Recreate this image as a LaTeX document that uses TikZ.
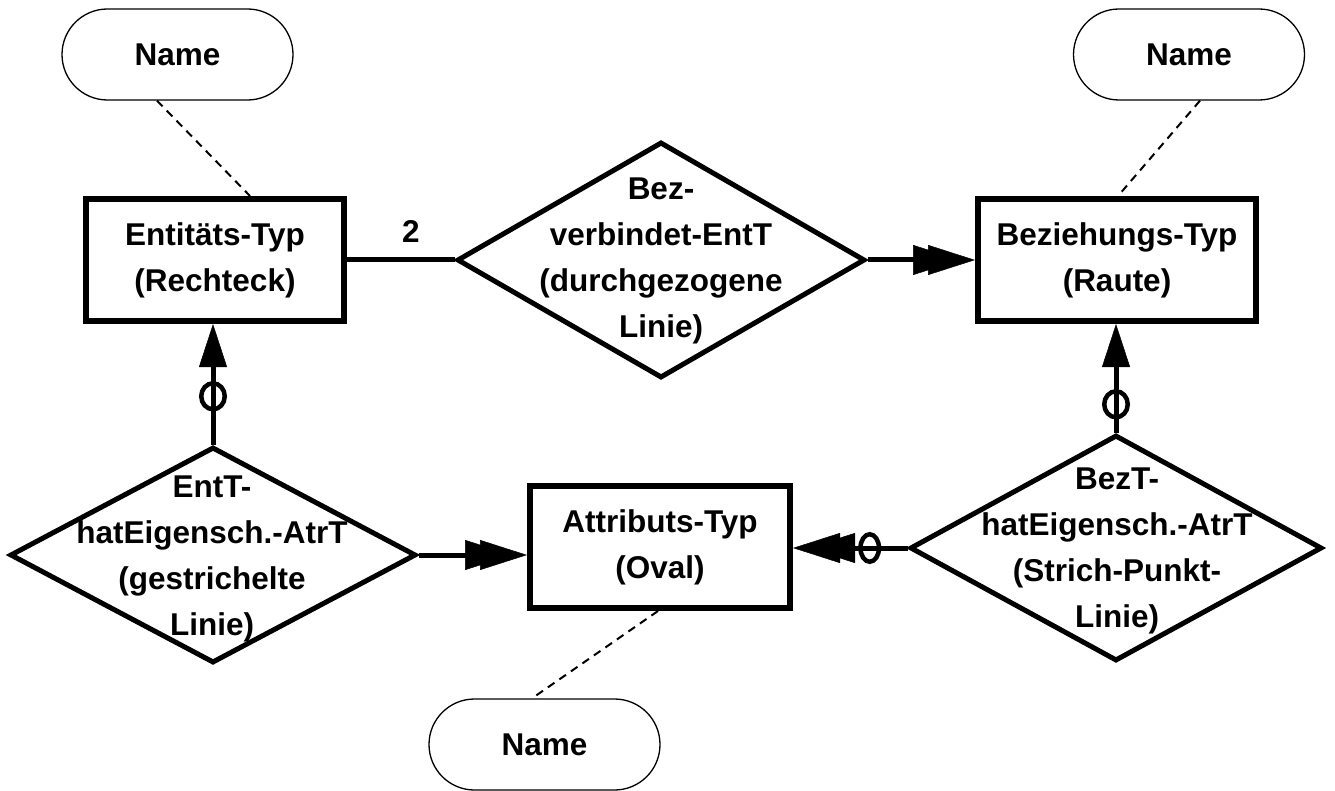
\documentclass[tikz,border=0pt]{standalone}
\usepackage{fontspec}
\setmainfont{Liberation Sans}
\usetikzlibrary{arrows.meta,shapes.geometric}
\begin{document}
\begin{tikzpicture}[x=1pt,y=-1pt,
  txt/.style={font=\fontsize{31.5}{46}\selectfont\bfseries, align=center, inner sep=0pt},
  entbox/.style={txt, draw, line width=6pt, rectangle, minimum height=122pt},
  relshape/.style={draw, diamond, line width=5pt, inner sep=0pt},
  namebox/.style={txt, draw, line width=1.3pt, rounded corners=45.5pt, minimum width=231pt, minimum height=91pt},
  conn/.style={line width=5pt},
  dbl/.style={-{Triangle[length=47pt,width=30pt,line width=0.5pt,sep=-32pt]Triangle[length=47pt,width=30pt,line width=0.5pt]}},
  sgl/.style={-{Triangle[length=43pt,width=28pt,line width=0.5pt]}},
  ocircV/.style={draw, ellipse, line width=4.5pt, minimum width=23.5pt, minimum height=26pt, inner sep=0pt},
  ocircH/.style={draw, ellipse, line width=4.5pt, minimum width=18.5pt, minimum height=27.5pt, inner sep=0pt},
  namelink/.style={line width=2pt, dash pattern=on 8pt off 6pt}
]
\useasboundingbox (0,0) rectangle (1335,791);
% boxes
\node[entbox, minimum width=258pt] (ent) at (215,260) {Entitäts-Typ\\(Rechteck)};
\node[entbox, minimum width=278pt] (bezbox) at (1117,260) {Beziehungs-Typ\\(Raute)};
\node[entbox, minimum width=260pt] (attr) at (660,547) {Attributs-Typ\\(Oval)};
% diamonds
\node[relshape, minimum width=408pt, minimum height=236pt] (bez) at (661,260) {};
\node[txt] (bezt) at (661,261) {Bez-\\verbindet-EntT\\(durchgezogene\\Linie)};
\node[relshape, minimum width=406pt, minimum height=216pt] (etd) at (213,555) {};
\node[txt] (etdt) at (212,559) {EntT-\\hatEigensch.-AtrT\\(gestrichelte\\Linie)};
\node[relshape, minimum width=412pt, minimum height=226pt] (btd) at (1116,548) {};
\node[txt] (btdt) at (1117,551) {BezT-\\hatEigensch.-AtrT\\(Strich-Punkt-\\Linie)};
% name ovals
\node[namebox] (nameL) at (177.5,54.5) {Name};
\node[namebox] (nameR) at (1189,54.5) {Name};
\node[namebox] (nameB) at (544.5,744.5) {Name};
% cardinality
\node[txt] (card) at (411,232) {2};
% connectors
\draw[conn] (ent.east) -- (bez.west);
\draw[conn, dbl] (bez.east) -- (bezbox.west);
\draw[conn, sgl] (etd.north) -- node[ocircV, pos=0.4]{} (etd.north |- ent.south);
\draw[conn, dbl] (etd.east) -- (etd.east -| attr.west);
\draw[conn, sgl] (btd.north) -- node[ocircV, pos=0.26]{} (btd.north |- bezbox.south);
\draw[conn, dbl] (btd.west) -- node[ocircH, pos=0.33]{} (btd.west -| attr.east);
% dashed name links
\draw[namelink] ([xshift=-20.5pt]nameL.south) -- ([xshift=35pt]ent.north);
\draw[namelink] ([xshift=11pt]nameR.south) -- ([xshift=1pt]bezbox.north);
\draw[namelink] ([xshift=-2pt]attr.south) -- ([xshift=-12.5pt]nameB.north);
\end{tikzpicture}
\end{document}
